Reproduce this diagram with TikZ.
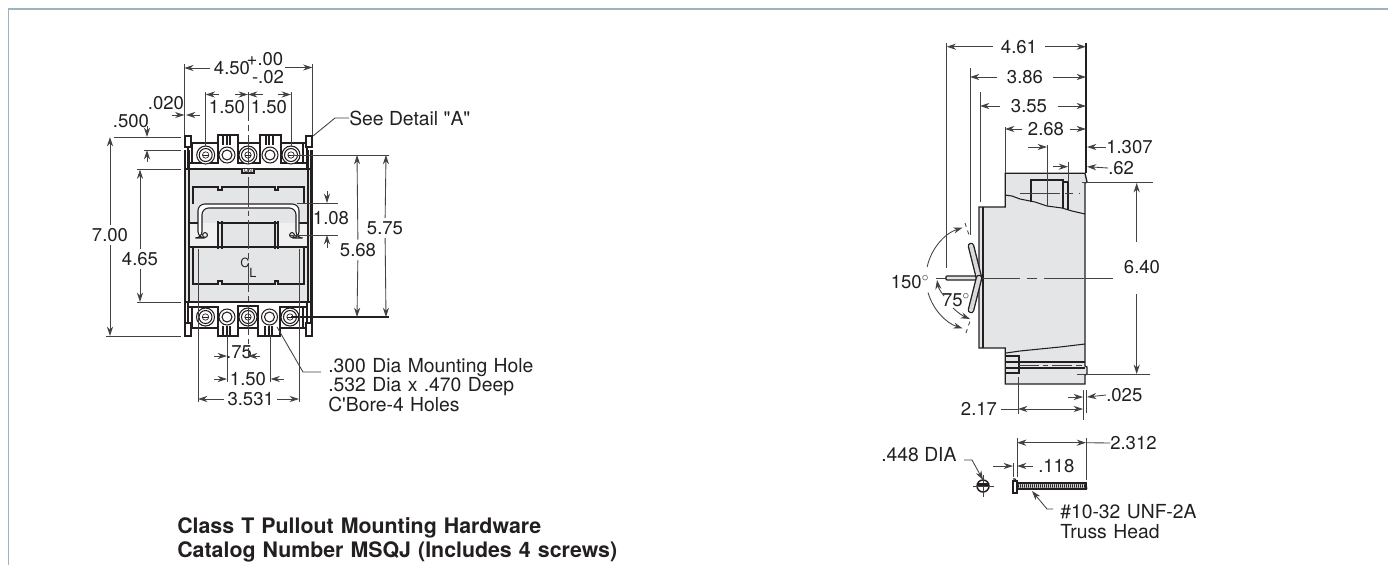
\documentclass[tikz,border=0pt]{standalone}
\usepackage{fontspec}
\setmainfont{TeX Gyre Heros}
\newfontfamily\helv{TeX Gyre Heros}
\usetikzlibrary{arrows.meta}
\definecolor{framecol}{HTML}{9DB4C0}
\definecolor{bodycol}{HTML}{E4E5E6}
\definecolor{bandcol}{HTML}{F1F1F2}
\definecolor{inkcol}{HTML}{231F20}
\tikzset{
  dimtext/.style={inner sep=2.5pt,text=inkcol,font=\fontsize{13.9}{16}\selectfont},
  note/.style={dimtext,align=left,anchor=west,inner sep=0pt},
  wordtext/.style={note,font=\helv\fontsize{14.5}{13.6}\selectfont},
  extline/.style={draw=inkcol!85,line width=0.65pt},
  dimline/.style={extline,>={Stealth[length=7pt,width=4.6pt]}},
  heavyline/.style={draw=inkcol,line width=1.9pt},
  partline/.style={draw=inkcol,line width=0.8pt},
  chainline/.style={draw=inkcol!85,line width=0.65pt,dash pattern=on 22pt off 3pt on 4pt off 3pt},
}
\begin{document}
\begin{tikzpicture}[x=0.75pt,y=-0.75pt]
  \useasboundingbox (0,0) rectangle (1388,565);
  \draw[framecol,line width=1.3pt] (1388,9) -- (8.5,9) -- (8.5,565);

  % front view
  \fill[bodycol] (186,169) rectangle (311,302);
  \fill[bandcol] (188,223) rectangle (218,247);
  \fill[bandcol] (278,223) rectangle (309,247);
  \draw[partline] (193,204) -- (193,187) -- (218,187) -- (218,190) -- (222,190) -- (222,187) --
    (275,187) -- (275,190) -- (278,190) -- (278,187) -- (304,187) -- (304,204);
  \draw[partline] (193,247) -- (193,284) -- (218,284) -- (218,281) -- (222,281) -- (222,284) --
    (275,284) -- (275,281) -- (278,281) -- (278,284) -- (304,284) -- (304,247);
  \draw[partline] (188,223) -- (198,223) (299,223) -- (309,223) (218,223) -- (278,223);
  \draw[partline] (188,247) -- (309,247);
  \draw[partline,line width=0.9pt] (218,221) -- (218,249) (222,221) -- (222,249)
    (275,221) -- (275,249) (278,221) -- (278,249);
  \draw[partline,fill=white,rounded corners=5pt] (198,238) -- (198,204) -- (299,204) -- (299,238) --
    (296,238) -- (296,208) -- (202,208) -- (202,238) -- cycle;
  \draw[partline] (205,235) circle (2.4) (292,235) circle (2.4);

  % top terminals
  \draw[heavyline,line width=1.6pt] (188,169) -- (188,143) -- (218,143) -- (218,135) -- (238,135) -- (238,143) --
    (260,143) -- (260,135) -- (281,135) -- (281,143) -- (307,143) -- (307,169);
  \draw[heavyline,line width=1.6pt] (188,163) -- (218,163) -- (218,143) (238,143) -- (238,163) -- (260,163) -- (260,143)
    (281,143) -- (281,163) -- (307,163);
  \draw[partline] (192,143) -- (192,163) (303,143) -- (303,163);
  \foreach \xpos in {223,226.5,230,265.5,269,272.5}
    \draw[heavyline,line width=1.5pt] (\xpos,135) -- (\xpos,145);
  \draw[heavyline] (185,169) -- (312,169);
  \draw[partline,line width=1.2pt,fill=bodycol] (242,169) -- (242,173) -- (254,173) -- (254,169);
  \node[inner sep=0pt,text=inkcol,font=\fontsize{4}{4}\selectfont] (onmark) at (248,170.5) {ON};

  % bottom terminals
  \draw[heavyline,line width=1.6pt] (188,302) -- (188,328) -- (218,328) -- (218,336) -- (238,336) -- (238,328) --
    (258,328) -- (258,336) -- (280,336) -- (280,328) -- (307,328) -- (307,302);
  \draw[heavyline,line width=1.6pt] (188,307) -- (218,307) -- (218,328) (238,328) -- (238,306) -- (258,306) -- (258,328)
    (280,328) -- (280,307) -- (307,307);
  \draw[partline] (192,307) -- (192,328) (303,307) -- (303,328);
  \foreach \xpos in {223,226.5,230,265,268.5,272}
    \draw[heavyline,line width=1.5pt] (\xpos,326) -- (\xpos,336);
  \draw[partline,line width=1.2pt] (185,302) -- (312,302);

  % side walls and feet
  \draw[heavyline,line width=1.6pt] (185,150) -- (185,322) (311.5,150) -- (311.5,322);
  \draw[partline] (189,150) -- (189,302) (308,150) -- (308,302);
  \foreach \xpos in {184.5,305.5} {
    \draw[heavyline,line width=1.5pt,fill=white] (\xpos,136) rectangle ++(6.5,11);
    \draw[heavyline,line width=1.5pt,fill=white] (\xpos,323) rectangle ++(6.5,13);
  }

  % screws
  \foreach \xpos/\ypos in {205.7/155,248/155,291/155,205.5/317,248/317,290/317} {
    \draw[partline,fill=white] (\xpos,\ypos) circle (9);
    \draw[partline] (\xpos,\ypos) circle (6.5);
    \draw[partline,line width=0.5pt] (\xpos,\ypos) circle (3.2);
    \draw[partline,line width=0.5pt] (\xpos-3.2,\ypos) -- (\xpos+3.2,\ypos);
  }
  \foreach \xpos/\ypos in {227/155,270/155,227/317,269.5/317} {
    \draw[partline,fill=white] (\xpos,\ypos) circle (8);
    \draw[partline] (\xpos,\ypos) circle (5);
  }

  % center line and part mark
  \draw[chainline] (248,92) -- (248,358);
  \node[inner sep=0pt,text=inkcol,font=\fontsize{9.5}{10}\selectfont] (markC) at (245,263) {C};
  \node[inner sep=0pt,text=inkcol,font=\fontsize{9.5}{10}\selectfont] (markL) at (253,273) {L};

  % front view extension lines
  \draw[extline] (184.3,64) -- (184.3,135) (312.3,64) -- (312.3,135);
  \draw[extline] (205.7,92) -- (205.7,146) (291,92) -- (291,146);
  \draw[extline] (114,137) -- (181,137) (144,150) -- (181,150) (137,169.5) -- (181,169.5);
  \draw[extline] (137,302) -- (181,302) (106,336) -- (181,336);
  \draw[extline] (291,155) -- (389,155);
  \draw[heavyline,line width=1.3pt] (291,317) -- (389,317);
  \draw[extline] (297,203) -- (338,203) (290,235) -- (338,235);
  \draw[extline] (198,249) -- (198,402) (299,249) -- (299,402);
  \draw[extline] (227,336) -- (227,382) (270.6,336) -- (270.6,382);

  % front view dimensions
  \node[dimtext] (tHalf) at (232,68) {4.50};
  \node[dimtext,inner sep=1pt] (tPlus) at (265,59) {+.00};
  \node[dimtext,inner sep=1pt] (tMinus) at (268,77) {-.02};
  \coordinate (tGap) at (285,67.5);
  \draw[dimline,->] (tHalf) -- (184.3,68);
  \draw[dimline,->] (tGap) -- (312.3,67.5);
  \draw[dimline,->] (219,94.5) -- (205.7,94.5);
  \draw[dimline,->] (235,94.5) -- (248,94.5);
  \draw[dimline,->] (263,94.5) -- (248,94.5);
  \draw[dimline,->] (278,94.5) -- (291,94.5);
  \node[dimtext] (tPitchA) at (227,107) {1.50};
  \node[dimtext] (tPitchB) at (269,107) {1.50};
  \node[dimtext] (tGapB) at (166,103) {.020};
  \draw[dimline,->] (171.5,115) -- (184.3,115);
  \draw[dimline,->] (200,115) -- (186,115);
  \node[dimtext] (tFoot) at (131,121) {.500};
  \draw[dimline,->] (147,126) -- (147,137);
  \draw[dimline,->] (147,162) -- (147,150);
  \node[dimtext] (tHigh) at (110,235) {7.00};
  \draw[dimline,->] (tHigh) -- (110,137);
  \draw[dimline,->] (tHigh) -- (110,336);
  \node[dimtext] (tMid) at (140,259) {4.65};
  \draw[dimline,->] (tMid) -- (140,169.5);
  \draw[dimline,->] (tMid) -- (140,302);
  \node[dimtext] (tOutA) at (358,250) {5.68};
  \draw[dimline,->] (tOutA) -- (357,155);
  \draw[dimline,->] (tOutA) -- (357,317);
  \node[dimtext] (tOutB) at (385,228) {5.75};
  \draw[dimline,->] (tOutB) -- (386,155);
  \draw[dimline,->] (tOutB) -- (386,317);
  \node[dimtext] (tHandle) at (331,218) {1.08};
  \draw[dimline,->] (327,191) -- (327,203);
  \draw[dimline,->] (327,248) -- (327,235);
  \node[dimtext] (tWide) at (250.7,399) {3.531};
  \draw[dimline,->] (tWide) -- (198,399);
  \draw[dimline,->] (tWide) -- (299,399);
  \node[dimtext] (tPitchC) at (248,379) {1.50};
  \draw[dimline,->] (214,379) -- (227,379);
  \draw[dimline,->] (284,379) -- (270.6,379);
  \node[dimtext] (tQuart) at (239,352) {.75};
  \draw[extline] (248,350) -- (248,358);
  \draw[dimline,->] (214,356) -- (227,356);
  \draw[dimline,->] (260,356) -- (248,356);
  \node[wordtext] (tDetail) at (349,118) {See Detail "A"};
  \draw[extline] (tDetail.west) -- (335,118) -- (313,136);
  \node[wordtext,text width=220pt] (tHole) at (328,385) {.300 Dia Mounting Hole\\.532 Dia x .470 Deep\\C'Bore-4 Holes};
  \draw[extline] (321,372) -- (303,372) -- (277,327);

  \node[note,text width=400pt,font=\fontsize{16}{18}\selectfont\bfseries] (tTitle) at (177,539.5) %
    {Class T Pullout Mounting Hardware\\Catalog Number MSQJ (Includes 4 screws)};

  % side view
  \draw[partline,line width=1pt,fill=bodycol] (1005.3,173.3) -- (1005.3,207) -- (979,207) -- (979,348) -- (1005.3,348) --
    (1005.3,384) -- (1085,384) -- (1085,375) -- (1087,374) -- (1087,367) -- (1085,366) -- (1085,183) -- (1087,182) -- (1085,173.3) -- cycle;
  \draw[partline] (983,207) -- (983,348);
  \draw[partline] (1005,195) -- (1012,196) -- (1020,199) -- (1035,202) -- (1047,206) -- (1062,208) -- (1072,211) -- (1085,214);
  \draw[partline] (1031,202) -- (1031,180) -- (1063,180) -- (1063,208);
  \draw[extline] (1047,145) -- (1047,206);
  \draw[partline] (1063,182) -- (1068,182) -- (1068,210);
  \draw[chainline,dash pattern=on 30pt off 4pt on 6pt off 4pt] (1020,193) -- (1080,193);
  \draw[partline] (1006,353) -- (1020,351) -- (1040,349) -- (1060,347) -- (1085,344);
  \draw[partline] (1005.3,356) rectangle (1019,373);
  \draw[partline] (1005.3,362) -- (1085,362) (1005.3,368) -- (1085,368) (1005.3,373) -- (1019,373);
  \draw[chainline,dash pattern=on 15pt off 3pt on 4pt off 3pt] (1019,365) -- (1085,365);
  \draw[chainline,dash pattern=on 30pt off 5pt on 8pt off 5pt] (980,278) -- (1085,278);
  \draw[extline] (1085,278) -- (1113,278);

  % handle
  \coordinate (hinge) at (979,278);
  \draw[partline,fill=bodycol,line width=0.9pt,line cap=round] (947,276) -- (975,276) -- (979,278) -- (975,280) -- (947,280) to[bend left=90] cycle;
  \foreach \yend in {246,310} {
    \draw[partline,line width=5pt,line cap=round] (hinge) -- (971,\yend);
    \draw[white!70!gray,line width=3pt,line cap=round] (hinge) -- (971,\yend);
  }

  % side view extension lines
  \draw[extline] (946.7,43) -- (946.7,268) (970,68) -- (970,235);
  \draw[extline] (980,92) -- (980,202) (1005,127) -- (1005,173);
  \draw[partline,line width=0.9pt] (1086,43) -- (1086,173);
  \draw[extline] (1068,162) -- (1068,182);
  \draw[extline] (1082,182.7) -- (1153,182.7) (1077,374) -- (1150,374);
  \draw[extline] (1018,377) -- (1018,414) (1083,390) -- (1083,420) (1086,390) -- (1086,413);
  \draw[extline,dashed] (965,223) -- (970,238) (966,333) -- (970,321);

  % side view dimensions
  \node[dimtext,inner sep=6pt] (tSideA) at (1019,46.7) {4.61};
  \draw[dimline,->] (tSideA) -- (946.7,46.7);
  \draw[dimline,->] (tSideA) -- (1086,46.7);
  \node[dimtext,inner sep=7pt] (tSideB) at (1025,77) {3.86};
  \draw[dimline,->] (tSideB) -- (970,77);
  \draw[dimline,->] (tSideB) -- (1086,77);
  \node[dimtext,inner sep=8pt] (tSideC) at (1029,106) {3.55};
  \draw[dimline,->] (tSideC) -- (980,106);
  \draw[dimline,->] (tSideC) -- (1086,106);
  \node[dimtext,inner sep=4pt] (tSideD) at (1046,129) {2.68};
  \draw[dimline,->] (tSideD) -- (1005,129);
  \draw[dimline,->] (tSideD) -- (1086,129);
  \node[note] (tSlotA) at (1106,147) {1.307};
  \draw[dimline,->] (tSlotA.west) -- (1087,147);
  \draw[dimline,->] (1028,147) -- (1047,147);
  \node[note] (tSlotB) at (1108,168) {.62};
  \draw[dimline,->] (tSlotB.west) -- (1087,166.7);
  \draw[dimline,->] (1053,166.7) -- (1068,166.7);
  \node[dimtext,inner sep=8pt] (tSpan) at (1142,267) {6.40};
  \draw[dimline,->] (1136.7,242) -- (1136.7,183);
  \draw[dimline,->] (1136.7,294) -- (1136.7,374);
  \node[dimtext] (tBase) at (979,409) {2.17};
  \draw[extline] (tBase) -- (1018,409);
  \draw[dimline,<->] (1018,409) -- (1083,409);
  \node[note] (tLip) at (1106,395) {.025};
  \draw[dimline,->] (tLip.west) -- (1087,397);
  \draw[dimline,->] (1068,397) -- (1083,397);

  % swing angles
  \draw[extline] (936,278) -- (947,278);
  \draw[dimline,->] (hinge) ++(192:53) arc (192:252:53);
  \draw[dimline,->] (hinge) ++(164:53) arc (164:108:53);
  \node[dimtext,inner sep=0pt] (tWideAngle) at (910,282) {150$^{\circ}$};
  \node[dimtext,inner sep=0pt] (tHalfAngle) at (956,300) {75$^{\circ}$};
  \coordinate (swingA) at (944,296);
  \coordinate (swingB) at (937,280);
  \coordinate (swingC) at (953,308);
  \coordinate (swingD) at (970,319);
  \draw[dimline,->] (swingA) to[bend left=15] (swingB);
  \draw[dimline,->] (swingC) to[bend right=10] (swingD);

  % screw detail
  \node[wordtext] (tScrewDia) at (881,455) {.448 DIA};
  \coordinate (leadA) at (964,460);
  \draw[dimline,->] (leadA) -- (972,460) -- (983,480);
  \draw[partline,line width=1.1pt] (983,486) circle (6);
  \draw[extline] (973,486) -- (994,486) (983,475) -- (983,497);
  \draw[partline,line width=1.6pt] (977,484.5) -- (989,484.5);
  \draw[partline,line width=0.9pt] (1013,481) rectangle (1017,493);
  \draw[partline,line width=0.9pt] (1013,479) -- (1015,479) -- (1017,482);
  \fill[bodycol] (1017,483) rectangle (1086,489);
  \draw[partline,line width=0.8pt] (1017,483) rectangle (1086,489);
  \foreach \xpos in {1018,1020,...,1086}
    \draw[inkcol,line width=0.6pt] (\xpos,483) -- (\xpos+1,489);
  \draw[extline] (1017,438) -- (1017,477) (1086,438) -- (1086,480);
  \draw[extline] (1013,463) -- (1013,477);
  \draw[dimline,<->] (1017,442.7) -- (1086,442.7);
  \node[note] (tScrewLen) at (1110,443) {2.312};
  \draw[extline] (tScrewLen.west) -- (1086,442.7);
  \node[note] (tHeadLen) at (1038,466) {.118};
  \draw[dimline,->] (993,466) -- (1013,466);
  \draw[dimline,->] (1033,466) -- (1017,466);
  \node[wordtext,text width=120pt,font=\helv\fontsize{14.5}{15}\selectfont] (tThread) at (1060,522) {\#10-32 UNF-2A\\Truss Head};
  \coordinate (leadB) at (1053,509);
  \draw[dimline,->] (leadB) -- (1047,509) -- (1032,491);
\end{tikzpicture}
\end{document}
